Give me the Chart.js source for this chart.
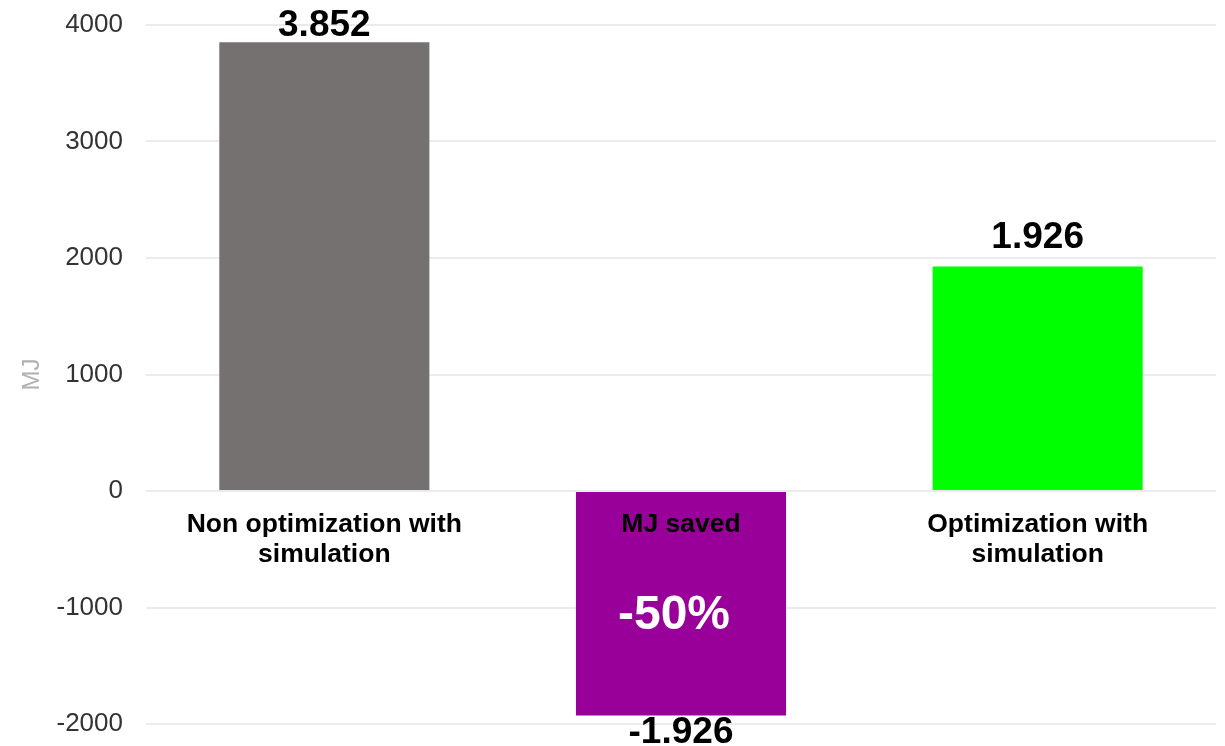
<!DOCTYPE html>
<html>
<head>
<meta charset="utf-8">
<title>MJ</title>
<script src="https://cdn.jsdelivr.net/npm/chart.js@4/dist/chart.umd.min.js"></script>
<style>
  html, body { margin: 0; padding: 0; background: #ffffff; }
  #wrap { width: 1225px; height: 746px; position: relative; }
</style>
</head>
<body>
<div id="wrap"><canvas id="chart"></canvas></div>
<script>
// Energy use per scenario, in MJ
const categories = [
  ['Non optimization with', 'simulation'],
  ['MJ saved'],
  ['Optimization with', 'simulation']
];
const energyMJ = [3852, -1926, 1926];
const barColors = ['#757170', '#990099', '#00ff00'];
const yTicks = [-2000, -1000, 0, 1000, 2000, 3000, 4000];
const axisTitle = 'MJ';

const FONT = '"Liberation Sans", Arial, Helvetica, sans-serif';

// Thousands separated with a dot: 3852 -> "3.852"
function formatMJ(v) {
  const sign = v < 0 ? '-' : '';
  const s = String(Math.abs(Math.round(v)));
  return sign + s.replace(/\B(?=(\d{3})+(?!\d))/g, '.');
}

// Value labels, category names on the zero line and the saving percentage
const barLabels = {
  id: 'barLabels',
  afterDatasetsDraw(chart) {
    const ctx = chart.ctx;
    const meta = chart.getDatasetMeta(0);
    const yScale = chart.scales.y;
    const zeroY = yScale.getPixelForValue(0);
    ctx.save();
    ctx.textAlign = 'center';
    ctx.textBaseline = 'alphabetic';

    // category names just below zero
    ctx.fillStyle = '#000000';
    ctx.font = 'bold 26.5px ' + FONT;
    meta.data.forEach((bar, i) => {
      categories[i].forEach((line, k) => {
        ctx.fillText(line, bar.x, zeroY + 41 + k * 30);
      });
    });

    // values above / below each bar
    const valSize = 37;
    ctx.font = 'bold ' + valSize + 'px ' + FONT;
    meta.data.forEach((bar, i) => {
      const v = energyMJ[i];
      let base;
      if (v >= 0) {
        base = Math.max(bar.y - 19, 8 + valSize * 0.75);
      } else {
        base = bar.y + valSize * 0.74;
      }
      ctx.fillText(formatMJ(v), bar.x, base);
    });

    // saving relative to the non optimized run, inside the negative bar
    const pct = Math.round(energyMJ[1] / energyMJ[0] * 100) + '%';
    const sBar = meta.data[1];
    ctx.fillStyle = '#ffffff';
    ctx.font = 'bold 48px ' + FONT;
    ctx.fillText(pct, sBar.x - 7, yScale.getPixelForValue(energyMJ[1] * 0.54) + 17);
    ctx.restore();
  }
};

new Chart(document.getElementById('chart'), {
  type: 'bar',
  data: {
    labels: categories.map(c => c.join(' ')),
    datasets: [{
      data: energyMJ,
      backgroundColor: barColors,
      borderWidth: 0,
      categoryPercentage: 1,
      barPercentage: 0.589
    }]
  },
  options: {
    responsive: true,
    maintainAspectRatio: false,
    animation: false,
    layout: { padding: { top: 25, right: 9, bottom: 22, left: 0 } },
    plugins: {
      legend: { display: false },
      tooltip: { enabled: false }
    },
    scales: {
      x: { display: false },
      y: {
        min: yTicks[0],
        max: yTicks[yTicks.length - 1],
        afterBuildTicks(scale) {
          scale.ticks = yTicks.map(v => ({ value: v }));
        },
        afterFit(scale) {
          scale.width = 146;
          scale.paddingTop = 0;
          scale.paddingBottom = 0;
        },
        border: { display: false },
        grid: { color: '#ebebeb', lineWidth: 2, drawTicks: false },
        ticks: {
          padding: 23,
          color: '#333333',
          font: { family: FONT, size: 26 },
          callback: v => String(v)
        },
        title: {
          display: true,
          text: axisTitle,
          color: '#b0b0b0',
          font: { family: FONT, size: 24 },
          padding: { top: 18, bottom: 0 }
        }
      }
    }
  },
  plugins: [barLabels]
});
</script>
</body>
</html>
